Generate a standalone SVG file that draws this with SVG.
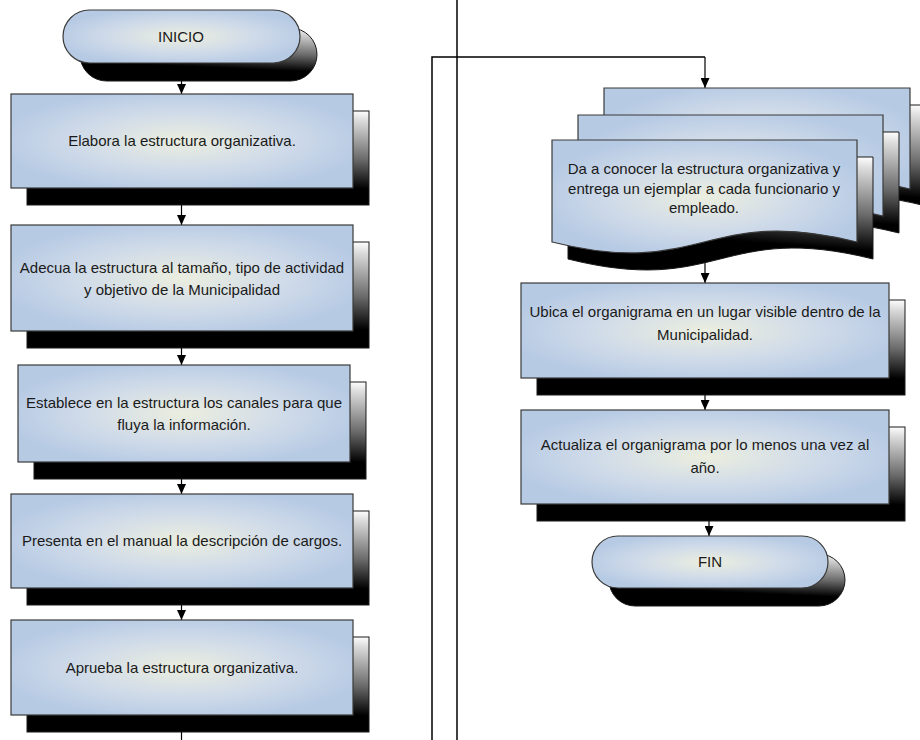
<svg xmlns="http://www.w3.org/2000/svg" width="920" height="740" viewBox="0 0 920 740">
  <defs>
    <radialGradient id="fillGrad" cx="0.5" cy="0.5" r="0.55">
      <stop offset="0" stop-color="#ebeedf"/>
      <stop offset="0.55" stop-color="#d0dbe9"/>
      <stop offset="1" stop-color="#b6cae4"/>
    </radialGradient>
    <linearGradient id="shadowGrad" x1="1" y1="0" x2="0.8" y2="1">
      <stop offset="0" stop-color="#ffffff"/>
      <stop offset="0.1" stop-color="#dcdcdc"/>
      <stop offset="0.5" stop-color="#6a6a6a"/>
      <stop offset="0.8" stop-color="#000000"/>
    </linearGradient>
    <marker id="arrow" markerUnits="userSpaceOnUse" markerWidth="10" markerHeight="9" viewBox="0 0 10 9" refX="10" refY="4.5" orient="auto">
      <path d="M0,0 L10,4.5 L0,9 z" fill="#000"/>
    </marker>
    <style>
      .box { fill: url(#fillGrad); stroke: #3a3a3a; stroke-width: 1.2; }
      .shadow { fill: url(#shadowGrad); stroke: #1a1a1a; stroke-width: 1; }
      .label { font-family: "Liberation Sans", Arial, sans-serif; font-size: 15px; fill: #1a1a1a; text-anchor: middle; }
      .conn { stroke: #000; stroke-width: 1.2; fill: none; }
      .rule { stroke: #000; stroke-width: 1.5; fill: none; }
    </style>
  </defs>

  <rect width="920" height="740" fill="#ffffff"/>

  <!-- connectors -->
  <g id="connectors">
    <line class="rule" x1="457" y1="0" x2="457" y2="740"/>
    <polyline class="rule" points="432,740 432,57 705,57"/>
    <line class="conn" x1="705" y1="57" x2="705" y2="88" marker-end="url(#arrow)"/>
    <line class="conn" x1="181.5" y1="78" x2="181.5" y2="94" marker-end="url(#arrow)"/>
    <line class="conn" x1="181.5" y1="205" x2="181.5" y2="225" marker-end="url(#arrow)"/>
    <line class="conn" x1="181.5" y1="347" x2="181.5" y2="365" marker-end="url(#arrow)"/>
    <line class="conn" x1="181.5" y1="478" x2="181.5" y2="494" marker-end="url(#arrow)"/>
    <line class="conn" x1="181.5" y1="604" x2="181.5" y2="620" marker-end="url(#arrow)"/>
    <line class="conn" x1="181.5" y1="732" x2="181.5" y2="740"/>
    <line class="conn" x1="705" y1="256" x2="705" y2="283" marker-end="url(#arrow)"/>
    <line class="conn" x1="705" y1="394" x2="705" y2="410" marker-end="url(#arrow)"/>
    <line class="conn" x1="709" y1="520" x2="709" y2="536" marker-end="url(#arrow)"/>
  </g>

  <!-- start -->
  <g id="inicio">
    <rect class="shadow" x="80" y="28" width="237" height="53" rx="26.5"/>
    <rect class="box" x="63" y="10" width="237" height="53" rx="26.5"/>
    <text class="label" x="181" y="42">INICIO</text>
  </g>

  <g id="elabora">
    <rect class="shadow" x="27" y="111" width="342" height="94"/>
    <rect class="box" x="11" y="94" width="342" height="94"/>
    <text class="label" x="182" y="146">Elabora la estructura organizativa.</text>
  </g>

  <g id="adecua">
    <rect class="shadow" x="27" y="242" width="342" height="106"/>
    <rect class="box" x="11" y="225" width="342" height="106"/>
    <text class="label" x="182" y="273">Adecua la estructura al tamaño, tipo de actividad</text>
    <text class="label" x="182" y="295">y objetivo de la Municipalidad</text>
  </g>

  <g id="establece">
    <rect class="shadow" x="34" y="382" width="332" height="97"/>
    <rect class="box" x="18" y="365" width="332" height="97"/>
    <text class="label" x="184" y="408">Establece en la estructura los canales para que</text>
    <text class="label" x="184" y="430">fluya la información.</text>
  </g>

  <g id="presenta">
    <rect class="shadow" x="27" y="511" width="342" height="94"/>
    <rect class="box" x="11" y="494" width="342" height="94"/>
    <text class="label" x="182" y="546">Presenta en el manual la descripción de cargos.</text>
  </g>

  <g id="aprueba">
    <rect class="shadow" x="27" y="637" width="342" height="95"/>
    <rect class="box" x="11" y="620" width="342" height="95"/>
    <text class="label" x="182" y="673">Aprueba la estructura organizativa.</text>
  </g>

  <!-- multi-document -->
  <g id="da-a-conocer">
    <path class="shadow" d="M620,105 H926 V206 C773,168 773,244 620,206 Z"/>
    <path class="box" d="M604,88 H910 V189 C757,151 757,227 604,189 Z"/>
    <path class="shadow" d="M594,132 H899 V233 C746,195 746,271 594,233 Z"/>
    <path class="box" d="M578,115 H883 V216 C730,178 730,254 578,216 Z"/>
    <path class="shadow" d="M568,157 H873 V259 C720,221 720,297 568,259 Z"/>
    <path class="box" d="M552,140 H857 V242 C704,204 704,280 552,242 Z"/>
    <text class="label" x="704" y="174">Da a conocer la estructura organizativa y</text>
    <text class="label" x="704" y="194">entrega un ejemplar a cada funcionario y</text>
    <text class="label" x="704" y="213">empleado.</text>
  </g>

  <g id="ubica">
    <rect class="shadow" x="537" y="300" width="368" height="95"/>
    <rect class="box" x="521" y="283" width="368" height="95"/>
    <text class="label" x="705" y="317">Ubica el organigrama en un lugar visible dentro de la</text>
    <text class="label" x="705" y="340">Municipalidad.</text>
  </g>

  <g id="actualiza">
    <rect class="shadow" x="537" y="427" width="368" height="94"/>
    <rect class="box" x="521" y="410" width="368" height="94"/>
    <text class="label" x="705" y="450">Actualiza el organigrama por lo menos una vez al</text>
    <text class="label" x="705" y="473">año.</text>
  </g>

  <!-- end -->
  <g id="fin">
    <rect class="shadow" x="609" y="554" width="236" height="52" rx="26"/>
    <rect class="box" x="592" y="536" width="236" height="52" rx="26"/>
    <text class="label" x="710" y="567">FIN</text>
  </g>
</svg>
